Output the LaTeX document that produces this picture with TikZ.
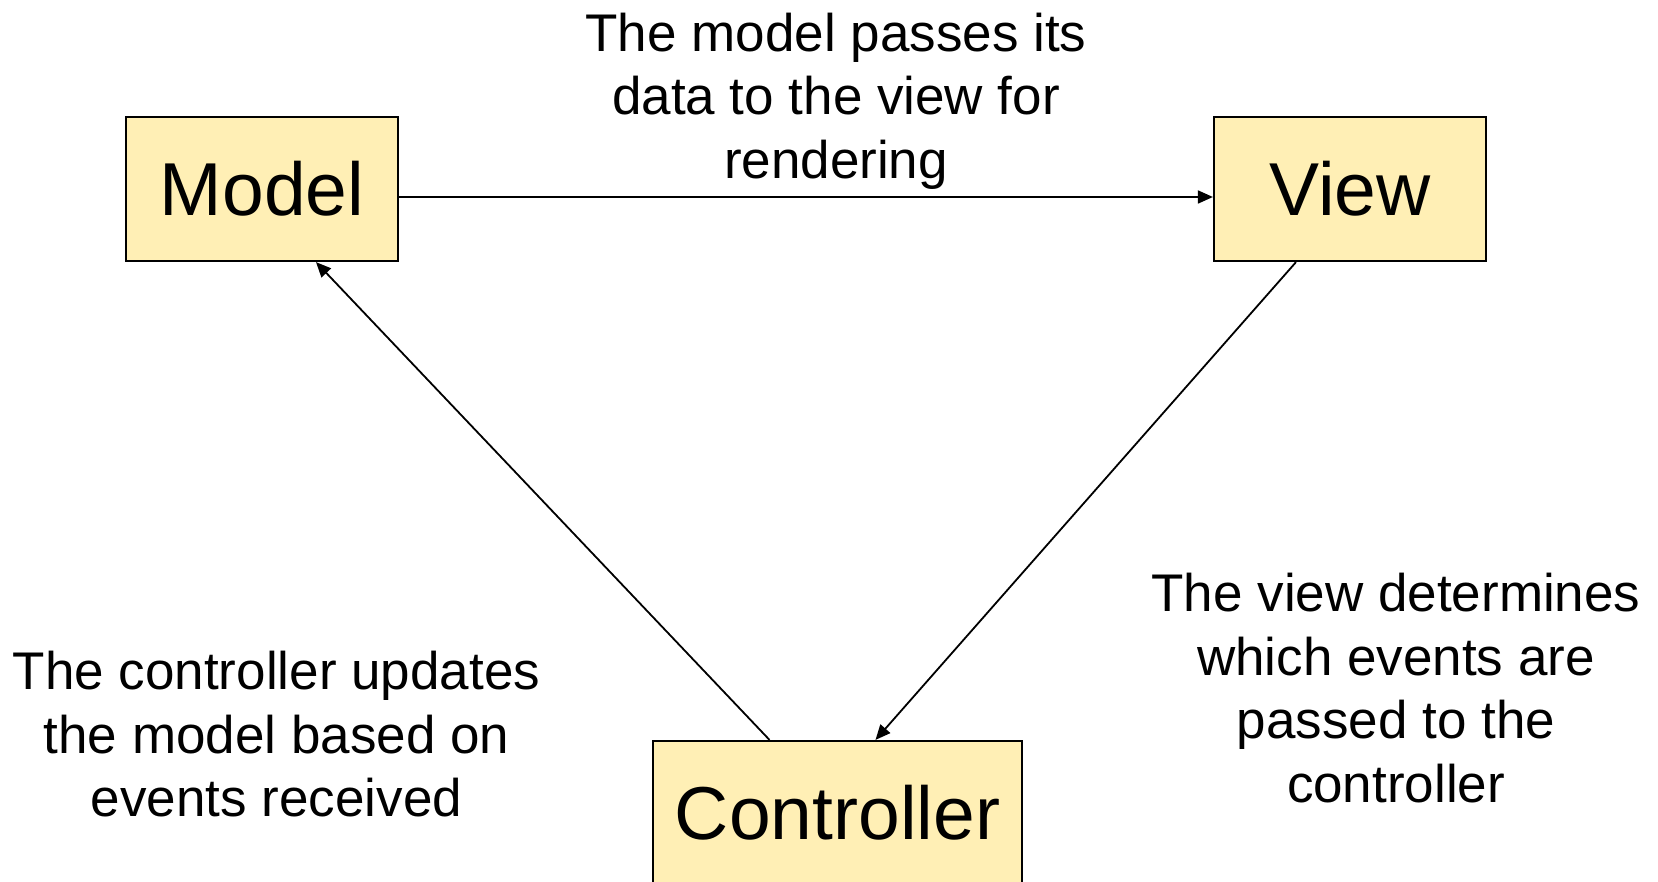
\documentclass[tikz,border=0pt]{standalone}
\usepackage{fontspec}
\setmainfont{Liberation Sans}
\usepackage{tikz}
\usetikzlibrary{arrows.meta}
\definecolor{boxfill}{HTML}{FFEFB5}

\begin{document}
\begin{tikzpicture}[x=1pt, y=-1pt,
  box/.style={draw, line width=2.2pt, fill=boxfill, inner sep=0pt, minimum width=272pt, minimum height=144pt, font=\fontsize{75}{90}\selectfont},
  arrow/.style={-{Triangle[length=15pt,width=13pt]}, line width=1.8pt},
  note/.style={align=center, anchor=north, inner sep=0pt, font=\fontsize{53}{63.5}\selectfont},
]
\useasboundingbox (0,0) rectangle (1658,882);
\clip (0,0) rectangle (1658,882);

% Boxes
\node[box] (model) at (262,189) {Model};
\node[box] (view) at (1350,189) {View};
\node[box, minimum width=369pt] (ctrl) at (837.5,813) {Controller};

% Labels
\node[note] (passnote) at (836,12.8) {The model passes its\\data to the view for\\rendering};
\node[note] (updnote) at (276.5,651) {The controller updates\\the model based on\\events received};
\node[note] (evtnote) at (1396,573) {The view determines\\which events are\\passed to the\\controller};

% Arrows
\draw[arrow] ([yshift=-8pt]model.east) -- ([yshift=-8pt]view.west);
\draw[arrow] ([xshift=-54pt]view.south) -- ([xshift=38pt]ctrl.north);
\draw[arrow] ([xshift=-68pt]ctrl.north) -- ([xshift=54pt]model.south);

\end{tikzpicture}
\end{document}
